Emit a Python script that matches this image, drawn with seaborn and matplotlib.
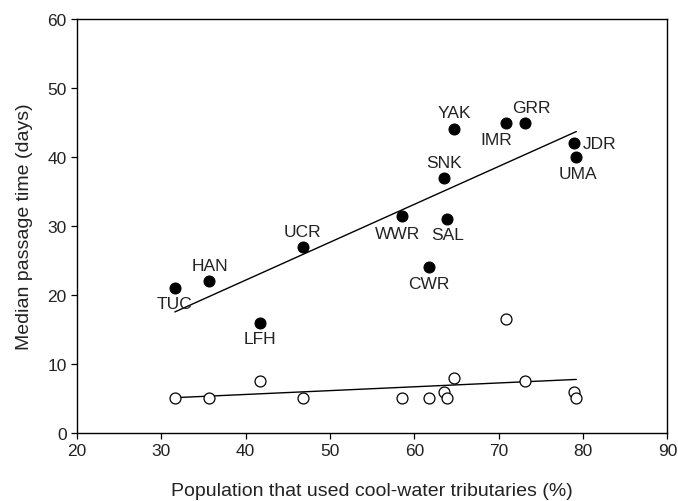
import matplotlib
matplotlib.use("Agg")
import matplotlib.pyplot as plt
import seaborn as sns
import pandas as pd

sites = ["TUC", "HAN", "LFH", "UCR", "WWR", "CWR", "SNK", "SAL", "YAK", "IMR", "GRR", "JDR", "UMA"]
pct_cool = [31.6, 35.6, 41.7, 46.8, 58.5, 61.7, 63.5, 63.9, 64.7, 70.9, 73.1, 78.9, 79.2]
median_days = [21, 22, 16, 27, 31.5, 24, 37, 31, 44, 45, 45, 42, 40]
open_days = [5, 5, 7.5, 5, 5, 5, 6, 5, 8, 16.5, 7.5, 6, 5]

# label offsets in pixels (dx, dy) and horizontal alignment
label_off = {
    "TUC": (0, -15, "center"), "HAN": (1, 16, "center"), "LFH": (0, -16, "center"),
    "UCR": (-1, 15, "center"), "WWR": (-4, -18, "center"), "CWR": (0, -16, "center"),
    "SNK": (0, 15, "center"), "SAL": (0, -15, "center"), "YAK": (0, 17, "center"),
    "IMR": (-10, -17, "center"), "GRR": (6, 15, "center"), "JDR": (9, 0, "left"),
    "UMA": (2, -16, "center"),
}

df = pd.DataFrame({"site": sites, "x": pct_cool, "filled": median_days, "open": open_days})

sns.set_style("white")
plt.rcParams["font.family"] = ["Liberation Sans", "DejaVu Sans"]

fig = plt.figure(figsize=(6.78, 5.02), dpi=100)
ax = fig.add_axes([0.1136, 0.1355, 0.8708, 0.8245])

sns.regplot(data=df, x="x", y="filled", scatter=False, ci=None, truncate=True,
            line_kws={"color": "black", "lw": 1.0}, ax=ax)
sns.regplot(data=df, x="x", y="open", scatter=False, ci=None, truncate=True,
            line_kws={"color": "black", "lw": 1.0}, ax=ax)
sns.scatterplot(data=df, x="x", y="filled", color="black", s=62, edgecolor="black",
                linewidth=0.8, ax=ax, zorder=3)
sns.scatterplot(data=df, x="x", y="open", color="white", s=62, edgecolor="black",
                linewidth=0.9, ax=ax, zorder=3)

for s, xv, yv in zip(sites, pct_cool, median_days):
    dx, dy, ha = label_off[s]
    ax.annotate(s, (xv, yv), xytext=(dx * 0.72, dy * 0.72), textcoords="offset points",
                ha=ha, va="center", fontsize=12.5, color="#222222")

ax.set_xlim(20, 90)
ax.set_ylim(0, 60)
ax.set_xticks(range(20, 91, 10))
ax.set_yticks(range(0, 61, 10))
ax.tick_params(axis="both", which="both", direction="out", length=4, width=0.9,
               labelsize=12.5, colors="black", bottom=True, left=True, top=False, right=False,
               labelcolor="#222222")
for sp in ax.spines.values():
    sp.set_visible(True)
    sp.set_color("black")
    sp.set_linewidth(1.0)
ax.set_xlabel("Population that used cool-water tributaries (%)", fontsize=14,
              color="#222222", labelpad=17)
ax.set_ylabel("Median passage time (days)", fontsize=14, color="#222222", labelpad=10)

fig.savefig("out.png", dpi=100)
